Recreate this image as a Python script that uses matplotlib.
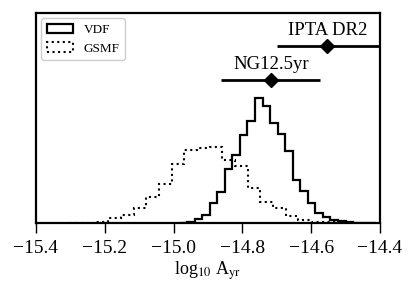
import numpy as np
import matplotlib
matplotlib.use("Agg")
import matplotlib.pyplot as plt

plt.rcParams['font.family'] = ['Liberation Serif', 'DejaVu Serif']
plt.rcParams['mathtext.fontset'] = 'stix'

# VDF histogram (arbitrary density units)
vdf_start = -14.9825
vdf_width = 0.02192
vdf_vals = [0.05, 0.13, 0.37, 0.80, 2.03, 3.13, 5.37, 6.85, 8.80, 10.25,
            12.55, 11.70, 10.00, 8.90, 7.20, 4.35, 3.20, 2.00, 0.97, 0.65,
            0.27, 0.20, 0.08, 0.05, 0.03, 0.03]

# GSMF histogram
gsmf_start = -15.3009
gsmf_width = 0.03688
gsmf_vals = [0.03, 0.05, 0.15, 0.55, 0.80, 1.47, 2.63, 3.90, 5.90, 7.27,
             7.55, 7.65, 6.35, 5.70, 3.50, 2.15, 1.55, 0.70, 0.30, 0.15,
             0.07, 0.03]

# PTA measurements: centre, lower, upper
pta_names = ['NG12.5yr', 'IPTA DR2']
pta_centre = [-14.717, -14.553]
pta_lo = [-14.862, -14.70]
pta_hi = [-14.574, -14.39]
pta_y = [14.3, 17.7]

def edges(start, width, n):
    return np.linspace(start, start + n * width, n + 1)

fig = plt.figure(figsize=(4.16, 2.96), dpi=100)
ax = fig.add_axes([0.0865, 0.2466, 0.827, 0.7094])

e = edges(vdf_start, vdf_width, len(vdf_vals))
ax.hist(0.5 * (e[1:] + e[:-1]), bins=e, weights=vdf_vals, histtype='step',
        color='k', lw=1.6, label='VDF')
e = edges(gsmf_start, gsmf_width, len(gsmf_vals))
ax.hist(0.5 * (e[1:] + e[:-1]), bins=e, weights=gsmf_vals, histtype='step',
        color='k', lw=1.5, ls=':', label='GSMF')

for name, c, lo, hi, y in zip(pta_names, pta_centre, pta_lo, pta_hi, pta_y):
    ax.errorbar([c], [y], xerr=[[c - lo], [hi - c]], fmt='D', color='k',
                ms=7, lw=2, capsize=0)
    ax.text(c, y + 0.75, name, ha='center', va='bottom', fontsize=13.5)

ax.set_xlim(-15.4, -14.4)
ax.set_ylim(0, 21.0)
ax.set_yticks([])
ax.set_xticks([-15.4, -15.2, -15.0, -14.8, -14.6, -14.4])
ax.tick_params(axis='x', direction='out', length=7, width=1, labelsize=14, pad=5)
for s in ax.spines.values():
    s.set_linewidth(1.6)
ax.set_xlabel(r'log$_{10}$ A$_{\rm yr}$', fontsize=13, labelpad=2)

leg = ax.legend(loc='upper left', fontsize=9.5, borderaxespad=0.4,
                handlelength=2.0, framealpha=1)
leg.get_frame().set_edgecolor('#cccccc')

fig.savefig('out.png', dpi=100)
